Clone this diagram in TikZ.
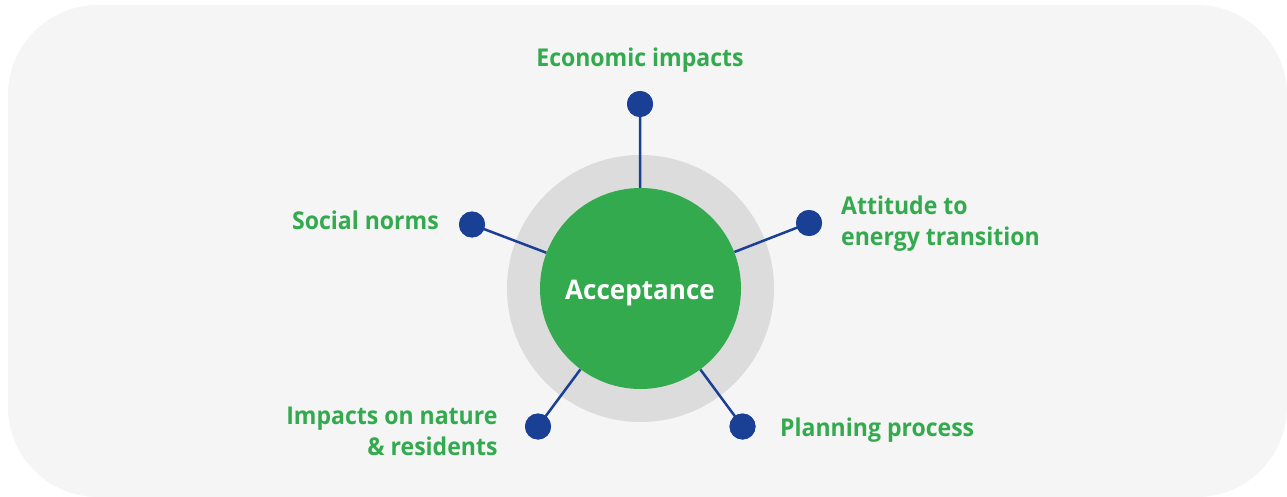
\documentclass[tikz,border=0pt]{standalone}
\usepackage{fontspec}
\setmainfont{Open Sans}
\newfontfamily\labelfont{Open Sans}[FakeStretch=0.94]
\newfontfamily\corefont{Open Sans}[FakeStretch=0.965]
\definecolor{panel}{HTML}{F5F5F5}
\definecolor{ring}{HTML}{DCDCDC}
\definecolor{accgreen}{HTML}{33AA4E}
\definecolor{dotblue}{HTML}{1A4096}
\begin{document}
\begin{tikzpicture}[x=1pt,y=-1pt,
  factor/.style={text=accgreen, inner sep=0pt, font=\labelfont\bfseries\fontsize{24.5}{31}\selectfont},
  hub/.style={circle, fill=dotblue, minimum size=26pt, inner sep=0pt},
  link/.style={draw=dotblue, line width=2.5pt}]
  \useasboundingbox (0,0) rectangle (1287,497);
  % panel
  \fill[panel, rounded corners=90pt] (8,5) rectangle (1287,497);
  % halo around the core
  \fill[ring] (640.5,288.5) circle[radius=133.5];
  % core and satellites
  \node[circle, inner sep=0pt, minimum size=201pt] (acc) at (640.5,288.5) {};
  \node[hub] (econ) at (640,104) {};
  \node[hub] (att) at (809,223) {};
  \node[hub] (soc) at (472,224.5) {};
  \node[hub] (nat) at (538,426.5) {};
  \node[hub] (plan) at (742.5,426.5) {};
  \foreach \h in {econ,att,soc,nat,plan} \draw[link] (\h.center) -- (acc);
  \fill[accgreen] (acc.center) circle[radius=100.5];
  \node[text=white, font=\corefont\bfseries\fontsize{27}{32}\selectfont, anchor=base] at (640,299.5) {Acceptance};
  \foreach \h in {econ,att,soc,nat,plan} \fill[dotblue] (\h) circle[radius=13];
  % labels (base of a two-line label is its last line)
  \node[factor, anchor=base] (l1) at (640,66.7) {Economic impacts};
  \node[factor, anchor=base west, align=left] (l2) at (841,245.7) {Attitude to\\energy transition};
  \node[factor, anchor=base east] (l3) at (439,229.3) {Social norms};
  \node[factor, anchor=base east, align=right] (l4) at (497.7,455) {Impacts on nature\\\& residents};
  \node[factor, anchor=base west] (l5) at (780,436.7) {Planning process};
\end{tikzpicture}
\end{document}
